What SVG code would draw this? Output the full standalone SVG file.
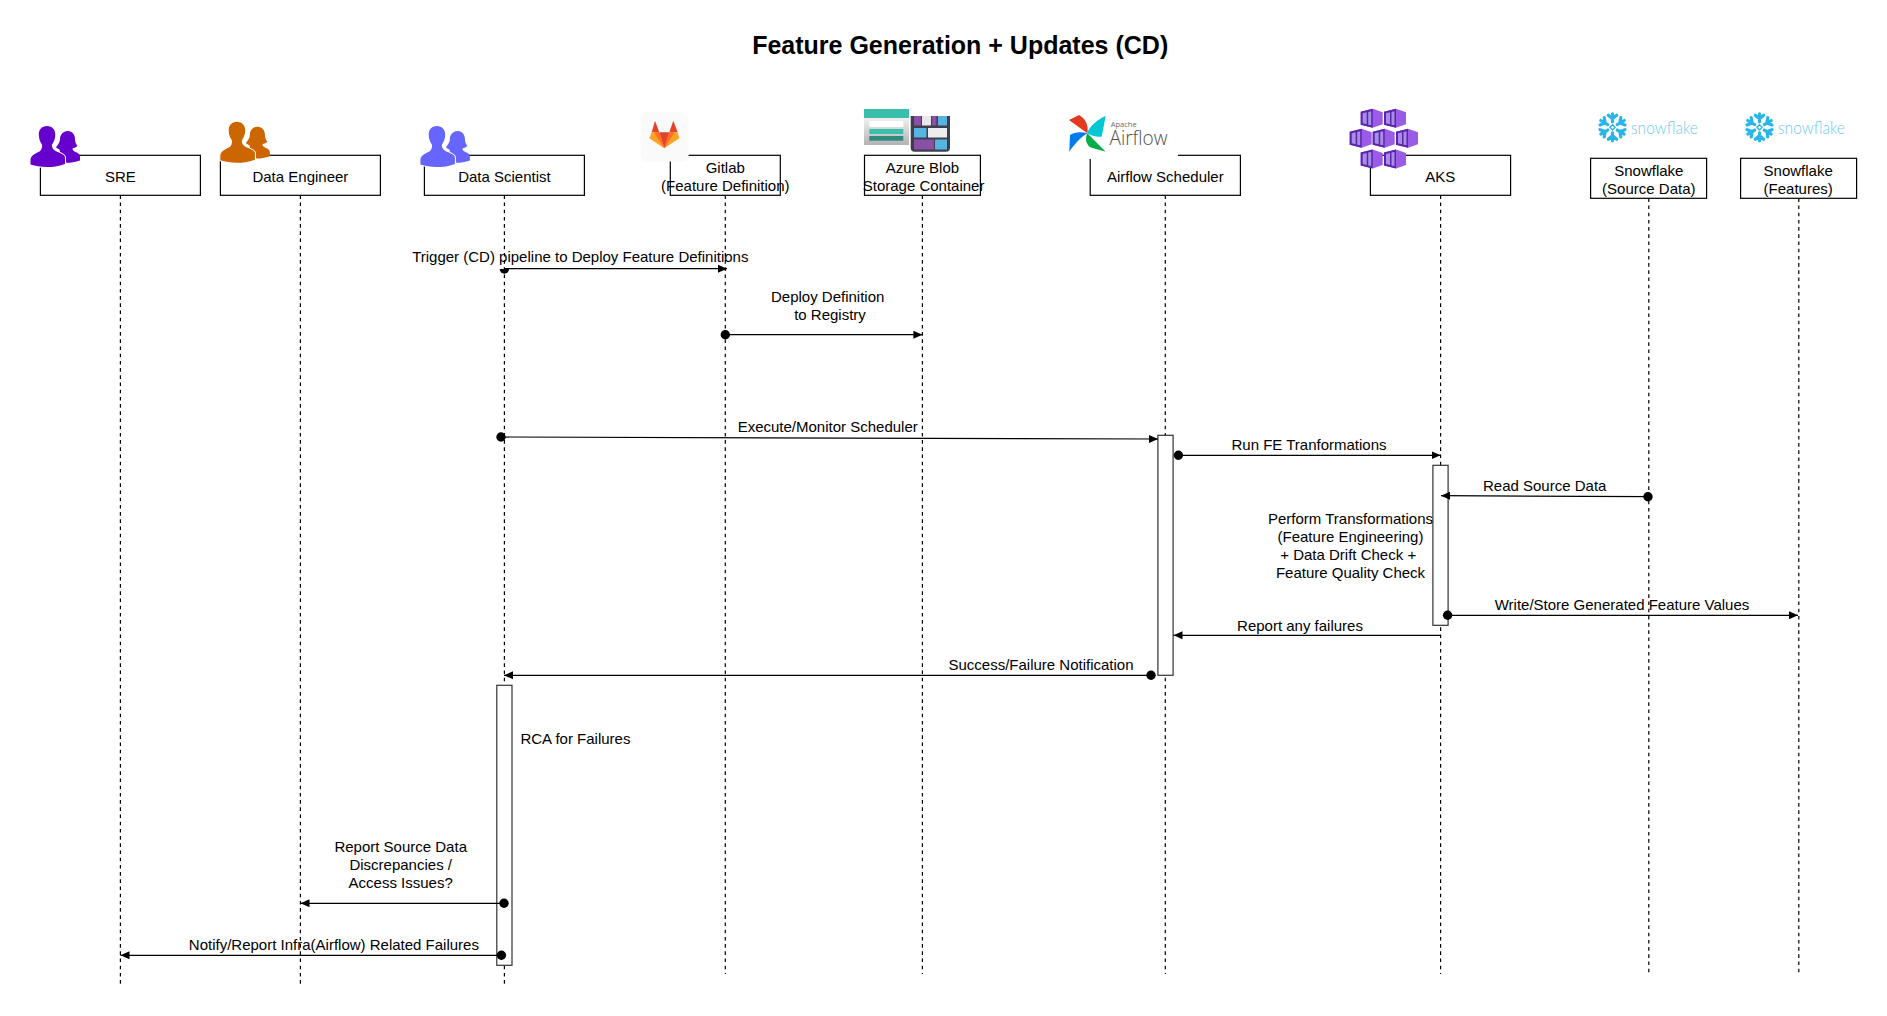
<svg xmlns="http://www.w3.org/2000/svg" xmlns:xlink="http://www.w3.org/1999/xlink" width="1887" height="1016" viewBox="0 0 1887 1016">
<style>
text{font-family:"Liberation Sans",Arial,sans-serif;font-size:15px;fill:#000}
.m{text-anchor:middle}
.t{font-size:25px;font-weight:700;text-anchor:middle}
.box{fill:#fff;stroke:#000;stroke-width:1.2}
.act{fill:#fff;stroke:#333;stroke-width:1.2}
.life{stroke:#000;stroke-width:1.2;stroke-dasharray:3.6 3.6;fill:none}
.msg{stroke:#000;stroke-width:1.2;fill:none;marker-end:url(#tip)}
.dot{marker-start:url(#oval)}
.snowtxt{font-family:"Lato","Open Sans",sans-serif;font-weight:300;font-size:17px;fill:#6fcbec}
.af1{font-family:"Open Sans",sans-serif;font-size:7.5px;fill:#6a6a6a}
.af2{font-family:"Open Sans",sans-serif;font-weight:300;font-size:20px;fill:#51504f}
</style>
<defs>
<marker id="tip" markerUnits="userSpaceOnUse" markerWidth="10" markerHeight="10" refX="9" refY="4.5" orient="auto"><path d="M0 0.5L9 4.5L0 8.5Z" fill="#000"/></marker>
<marker id="oval" markerUnits="userSpaceOnUse" markerWidth="11" markerHeight="11" refX="5.5" refY="5.5" orient="auto"><circle cx="5.5" cy="5.5" r="4.7" fill="#000"/></marker>
<symbol id="people" viewBox="0 0 50 41" width="50" height="41" overflow="visible">
<path d="M37.2 5C42 5 44.5 9 44.5 13C44.5 16 45.5 18 47 20C45 21.5 43.5 22 42 22.5C42 24 43 25 45 26C47.5 27 49.5 28 49.5 31L49.5 34.5C45 36 40 36.8 36 36.8L30 28L29 23.5C27.5 23 26.5 22.2 25.5 21.3C28 18 29.5 16 29.5 13C29.5 9 32.5 5 37.2 5Z"/>
<path stroke="#fff" stroke-width="2" paint-order="stroke" d="M16.5 0C21.5 0 24.8 3.5 24.8 8.5C24.8 13 23 16.5 21.5 18.5C21 21 22.5 23.5 25 25C29 27 33.5 28 34.5 31L34.5 38C28 40.5 22 41 16.5 41C10 41 5 40 0 38.5L0 33C1 29 6 27 9 25.5C11 24 12 21 11.5 18.5C10 16.5 8.3 13 8.3 8.5C8.3 3.5 11.5 0 16.5 0Z"/>
</symbol>
<g id="cube">
<path d="M-11 -6.5L1 -9.5L11 -6L11 6L1 9.5L-11 6.5Z" fill="#9a5ce6"/>
<path d="M-11 -6.5L1 -9.5L1 9.5L-11 6.5Z" fill="#5a25a8"/>
<path d="M-9 -5L-5 -6L-5 6L-9 5ZM-3.5 -6.4L-0.5 -7L-0.5 7L-3.5 6.4Z" fill="#a98be8"/>
</g>
<g id="arm" fill="none" stroke="#29b5e8" stroke-width="3.2" stroke-linecap="round" stroke-linejoin="round">
<path d="M0 -5.5L0 -13.5M-4.2 -12L0 -8.5L4.2 -12"/>
</g>
<g id="flake">
<use href="#arm"/><use href="#arm" transform="rotate(60)"/><use href="#arm" transform="rotate(120)"/><use href="#arm" transform="rotate(180)"/><use href="#arm" transform="rotate(240)"/><use href="#arm" transform="rotate(300)"/>
<path d="M0 -2.6L2.6 0L0 2.6L-2.6 0Z" fill="none" stroke="#29b5e8" stroke-width="1.4"/>
</g>
<linearGradient id="stor" x1="0" y1="0" x2="0" y2="1"><stop offset="0" stop-color="#f2f2f2"/><stop offset="1" stop-color="#b3b3b3"/></linearGradient>
</defs>
<rect width="1887" height="1016" fill="#fff"/>
<text class="t" x="960.2" y="54">Feature Generation + Updates (CD)</text>

<g id="sre">
<line class="life" x1="120.4" y1="195.3" x2="120.4" y2="985"/>
<rect class="box" x="40.4" y="155.3" width="160" height="40"/>
<text class="m" x="120.4" y="182">SRE</text>
<use href="#people" x="30.5" y="126" fill="#6600cc"/>
</g>
<g id="data-engineer">
<line class="life" x1="300.4" y1="195.3" x2="300.4" y2="985"/>
<rect class="box" x="220.4" y="155.3" width="160" height="40"/>
<text class="m" x="300.4" y="182">Data Engineer</text>
<use href="#people" x="220.4" y="121.7" fill="#cc6600"/>
</g>
<g id="data-scientist">
<line class="life" x1="504.4" y1="195.3" x2="504.4" y2="985"/>
<rect class="box" x="424.4" y="155.3" width="160" height="40"/>
<text class="m" x="504.4" y="182">Data Scientist</text>
<use href="#people" x="420.4" y="126" fill="#6666ff"/>
<rect class="act" x="496.8" y="685.3" width="15.2" height="280"/>
</g>
<g id="gitlab">
<line class="life" x1="725.3" y1="195.3" x2="725.3" y2="974"/>
<rect class="box" x="670.3" y="155.3" width="110" height="40"/>
<text class="m" x="725.3" y="172.7">Gitlab</text>
<text class="m" x="725.3" y="190.7">(Feature Definition)</text>
<rect x="640.7" y="112" width="48" height="49.5" rx="7" fill="#fafafa"/>
<path d="M655 120.7L651.7 132.3H659.3Z" fill="#e24329"/>
<path d="M673.3 120.7L669.3 132.3H677.7Z" fill="#e24329"/>
<path d="M649.3 138.3L651.7 132.3H659.3L664.3 148.3Z" fill="#fca326"/>
<path d="M679.3 138.3L677.7 132.3H669.3L664.3 148.3Z" fill="#fca326"/>
<path d="M654 132.3H659.3L664.3 148.3Z M674.6 132.3H669.3L664.3 148.3Z" fill="#fc6d26"/>
<path d="M659.3 132.3H669.3L664.3 148.3Z" fill="#e24329"/>
</g>
<g id="azure-blob">
<line class="life" x1="922.4" y1="195.3" x2="922.4" y2="974"/>
<rect class="box" x="864.5" y="155.3" width="115.9" height="40"/>
<text class="m" x="922.4" y="172.7">Azure Blob</text>
<text class="m" x="923.6" y="190.7">Storage Container</text>
<rect x="864" y="117" width="45" height="28" fill="url(#stor)"/>
<rect x="864" y="109" width="45" height="9" fill="#3bbfad"/>
<rect x="869.3" y="121" width="34" height="6" fill="#fff"/>
<rect x="869.3" y="129" width="34" height="5" fill="#3bbfad"/>
<rect x="869.3" y="136" width="34" height="4.7" fill="#2e8b7d"/>
<path d="M910.7 116H950V147.7Q950 151.7 946 151.7H914.7Q910.7 151.7 910.7 147.7Z" fill="#3e3e4e"/>
<rect x="914" y="116" width="7" height="9.5" fill="#8a4fa6"/>
<rect x="922" y="116" width="9" height="9.5" fill="#e8e8e8"/>
<rect x="932" y="116" width="4.5" height="9.5" fill="#8a4fa6"/>
<rect x="938" y="116" width="9" height="9.5" fill="#55b4e0"/>
<rect x="914" y="128" width="12.5" height="9.5" fill="#55b4e0"/>
<rect x="928" y="128" width="19" height="9.5" fill="#ededed"/>
<rect x="914" y="139.5" width="20" height="10" fill="#8a4fa6"/>
<rect x="935" y="139.5" width="12" height="10" fill="#55b4e0"/>
</g>
<g id="airflow-scheduler">
<line class="life" x1="1165.3" y1="195.3" x2="1165.3" y2="974"/>
<rect class="box" x="1090.2" y="155.3" width="150.2" height="40"/>
<text class="m" x="1165.3" y="182">Airflow Scheduler</text>
<rect x="1065" y="112" width="113" height="47" fill="#fff"/>
<g transform="translate(1065 110) scale(.3333)">
<path d="M67 70L12 30L42 15C60 25 72 45 67 70Z" fill="#e43921"/>
<path d="M67 70C72 50 95 30 122 18L110 80C95 82 80 78 67 70Z" fill="#00c7d4"/>
<path d="M67 70L122 125L75 112C62 100 60 85 67 70Z" fill="#00ad46"/>
<path d="M67 70C50 80 30 100 13 125L15 75C30 65 50 65 67 70Z" fill="#017cee"/>
</g>
<text class="af1" x="1110.7" y="126.5">Apache</text>
<text class="af2" x="1109.5" y="145" textLength="58" lengthAdjust="spacingAndGlyphs">Airflow</text>
<rect class="act" x="1157.9" y="435.3" width="15.2" height="240"/>
</g>
<g id="aks">
<line class="life" x1="1440.6" y1="195.3" x2="1440.6" y2="974"/>
<rect class="box" x="1370.4" y="155.3" width="140.2" height="40"/>
<text class="m" x="1440.2" y="182">AKS</text>
<use href="#cube" x="1371.7" y="118.3"/>
<use href="#cube" x="1395" y="118.3"/>
<use href="#cube" x="1360.7" y="138.3"/>
<use href="#cube" x="1383.7" y="138.3"/>
<use href="#cube" x="1407" y="138.3"/>
<use href="#cube" x="1371.7" y="159"/>
<use href="#cube" x="1395" y="159"/>
<rect class="act" x="1432.9" y="465.3" width="15.2" height="160"/>
</g>
<g id="snowflake-source">
<line class="life" x1="1648.8" y1="198.3" x2="1648.8" y2="976"/>
<rect class="box" x="1590.6" y="158.3" width="116" height="40"/>
<text class="m" x="1648.8" y="176">Snowflake</text>
<text class="m" x="1648.8" y="194">(Source Data)</text>
<use href="#flake" x="1612.5" y="127.3"/>
<text class="snowtxt" x="1631" y="134" textLength="67" lengthAdjust="spacingAndGlyphs">snowflake</text>
</g>
<g id="snowflake-features">
<line class="life" x1="1798.8" y1="198.3" x2="1798.8" y2="976"/>
<rect class="box" x="1740.6" y="158.3" width="116" height="40"/>
<text class="m" x="1798.2" y="176">Snowflake</text>
<text class="m" x="1798.2" y="194">(Features)</text>
<use href="#flake" x="1759.5" y="127.3"/>
<text class="snowtxt" x="1778" y="134" textLength="67" lengthAdjust="spacingAndGlyphs">snowflake</text>
</g>

<g id="connectors">
<path d="M499.7 269A4.7 4.7 0 0 0 509.1 269Z" fill="#000"/>
<path class="msg" d="M504.4 268.7H727"/>
<text class="m" x="580.3" y="262">Trigger (CD) pipeline to Deploy Feature Definitions</text>
<path class="msg dot" d="M725.3 334.7H922.4"/>
<text class="m" x="827.7" y="302">Deploy Definition</text>
<text class="m" x="830" y="320">to Registry</text>
<path class="msg dot" d="M501 437L1158 439"/>
<text class="m" x="827.7" y="432">Execute/Monitor Scheduler</text>
<path class="msg dot" d="M1178.4 455.3H1440.6"/>
<text class="m" x="1309" y="450">Run FE Tranformations</text>
<path class="msg dot" d="M1648 496.7L1441 495.7"/>
<text class="m" x="1544.7" y="491">Read Source Data</text>
<text class="m" x="1350.5" y="524">Perform Transformations</text>
<text class="m" x="1350.5" y="542">(Feature Engineering)</text>
<text class="m" x="1348.2" y="560">+ Data Drift Check +</text>
<text class="m" x="1350.5" y="578">Feature Quality Check</text>
<path class="msg dot" d="M1447.6 615.3H1798"/>
<text class="m" x="1622" y="610">Write/Store Generated Feature Values</text>
<path class="msg" d="M1440 635.3H1173.5"/>
<text class="m" x="1300" y="631">Report any failures</text>
<path class="msg dot" d="M1151 675.3H504"/>
<text class="m" x="1041" y="670">Success/Failure Notification</text>
<text x="520.4" y="744">RCA for Failures</text>
<path class="msg dot" d="M504 903.3H300.5"/>
<text class="m" x="400.7" y="852">Report Source Data</text>
<text class="m" x="400.7" y="870">Discrepancies /</text>
<text class="m" x="400.7" y="888">Access Issues?</text>
<path class="msg dot" d="M501.4 955.3H120.5"/>
<text class="m" x="333.9" y="950">Notify/Report Infra(Airflow) Related Failures</text>
</g>
</svg>
